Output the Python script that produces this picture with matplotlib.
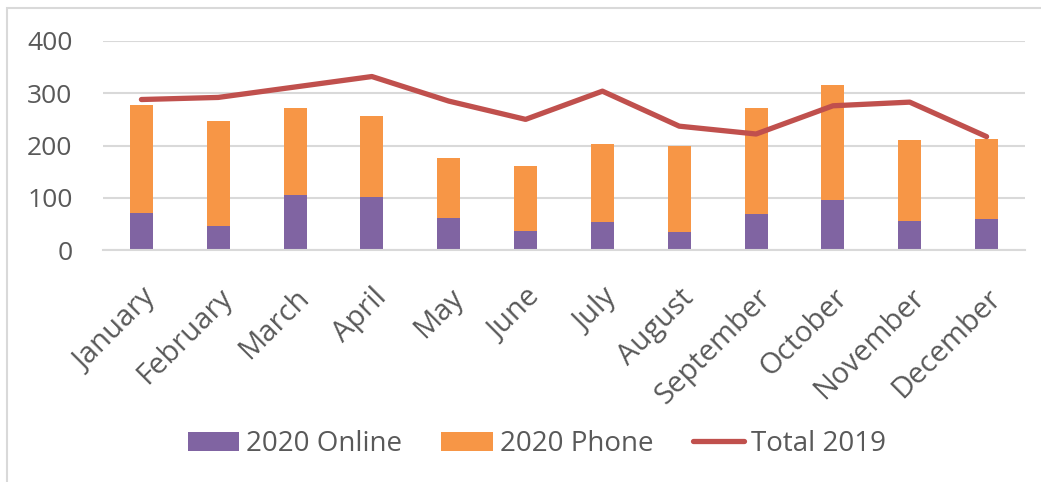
import matplotlib.pyplot as plt
from matplotlib.patches import Rectangle

months = ["January", "February", "March", "April", "May", "June", "July",
          "August", "September", "October", "November", "December"]
online_2020 = [71, 46, 106, 102, 61, 37, 54, 35, 69, 96, 56, 60]
total_2020 = [278, 247, 272, 257, 177, 160, 203, 199, 272, 315, 211, 213]
phone_2020 = [t - o for t, o in zip(total_2020, online_2020)]
total_2019 = [288, 292, 312, 332, 285, 250, 304, 237, 222, 276, 283, 217]

plt.rcParams["font.family"] = ["Open Sans", "DejaVu Sans"]
text_col = "#595959"

fig = plt.figure(figsize=(10.41, 4.82), dpi=100)
ax = fig.add_axes([103 / 1041, 1 - 250 / 482, 922 / 1041, 209 / 482])

x = list(range(len(months)))
b1 = ax.bar(x, online_2020, width=0.3, color="#8064A2", label="2020 Online", zorder=2)
b2 = ax.bar(x, phone_2020, width=0.3, bottom=online_2020, color="#F79646",
            label="2020 Phone", zorder=2)
l1, = ax.plot(x, total_2019, color="#C0504D", linewidth=3.8, solid_capstyle="round",
              solid_joinstyle="round", label="Total 2019", zorder=3)

ax.set_xlim(-0.5, len(months) - 0.5)
ax.set_ylim(0, 400)
ax.set_yticks([0, 100, 200, 300, 400])
ax.yaxis.grid(True, color="#D9D9D9", linewidth=1.5, zorder=0)
ax.set_axisbelow(True)
for s in ["top", "right", "left"]:
    ax.spines[s].set_visible(False)
ax.spines["bottom"].set_color("#D9D9D9")
ax.spines["bottom"].set_linewidth(1.5)
ax.tick_params(axis="y", length=0, labelsize=19, colors=text_col, pad=22)
ax.set_xticks(x)
ax.set_xticklabels(months, rotation=45, ha="right", rotation_mode="anchor")
ax.tick_params(axis="x", length=0, labelsize=21, colors=text_col, pad=24)

# chart border
fig.patches.append(Rectangle((7 / 1041, -0.1), 1.2, 1 - 8 / 482 + 0.1,
                             transform=fig.transFigure, fill=False,
                             edgecolor="#D9D9D9", linewidth=1.5))

fig.legend([b1, b2, l1], ["2020 Online", "2020 Phone", "Total 2019"],
           loc="center", bbox_to_anchor=(537 / 1041, 1 - 444 / 482),
           ncol=3, frameon=False, fontsize=20, handlelength=1.85,
           handleheight=0.65, handletextpad=0.27, columnspacing=1.4,
           labelcolor=text_col)

fig.savefig("out.png", dpi=100)
